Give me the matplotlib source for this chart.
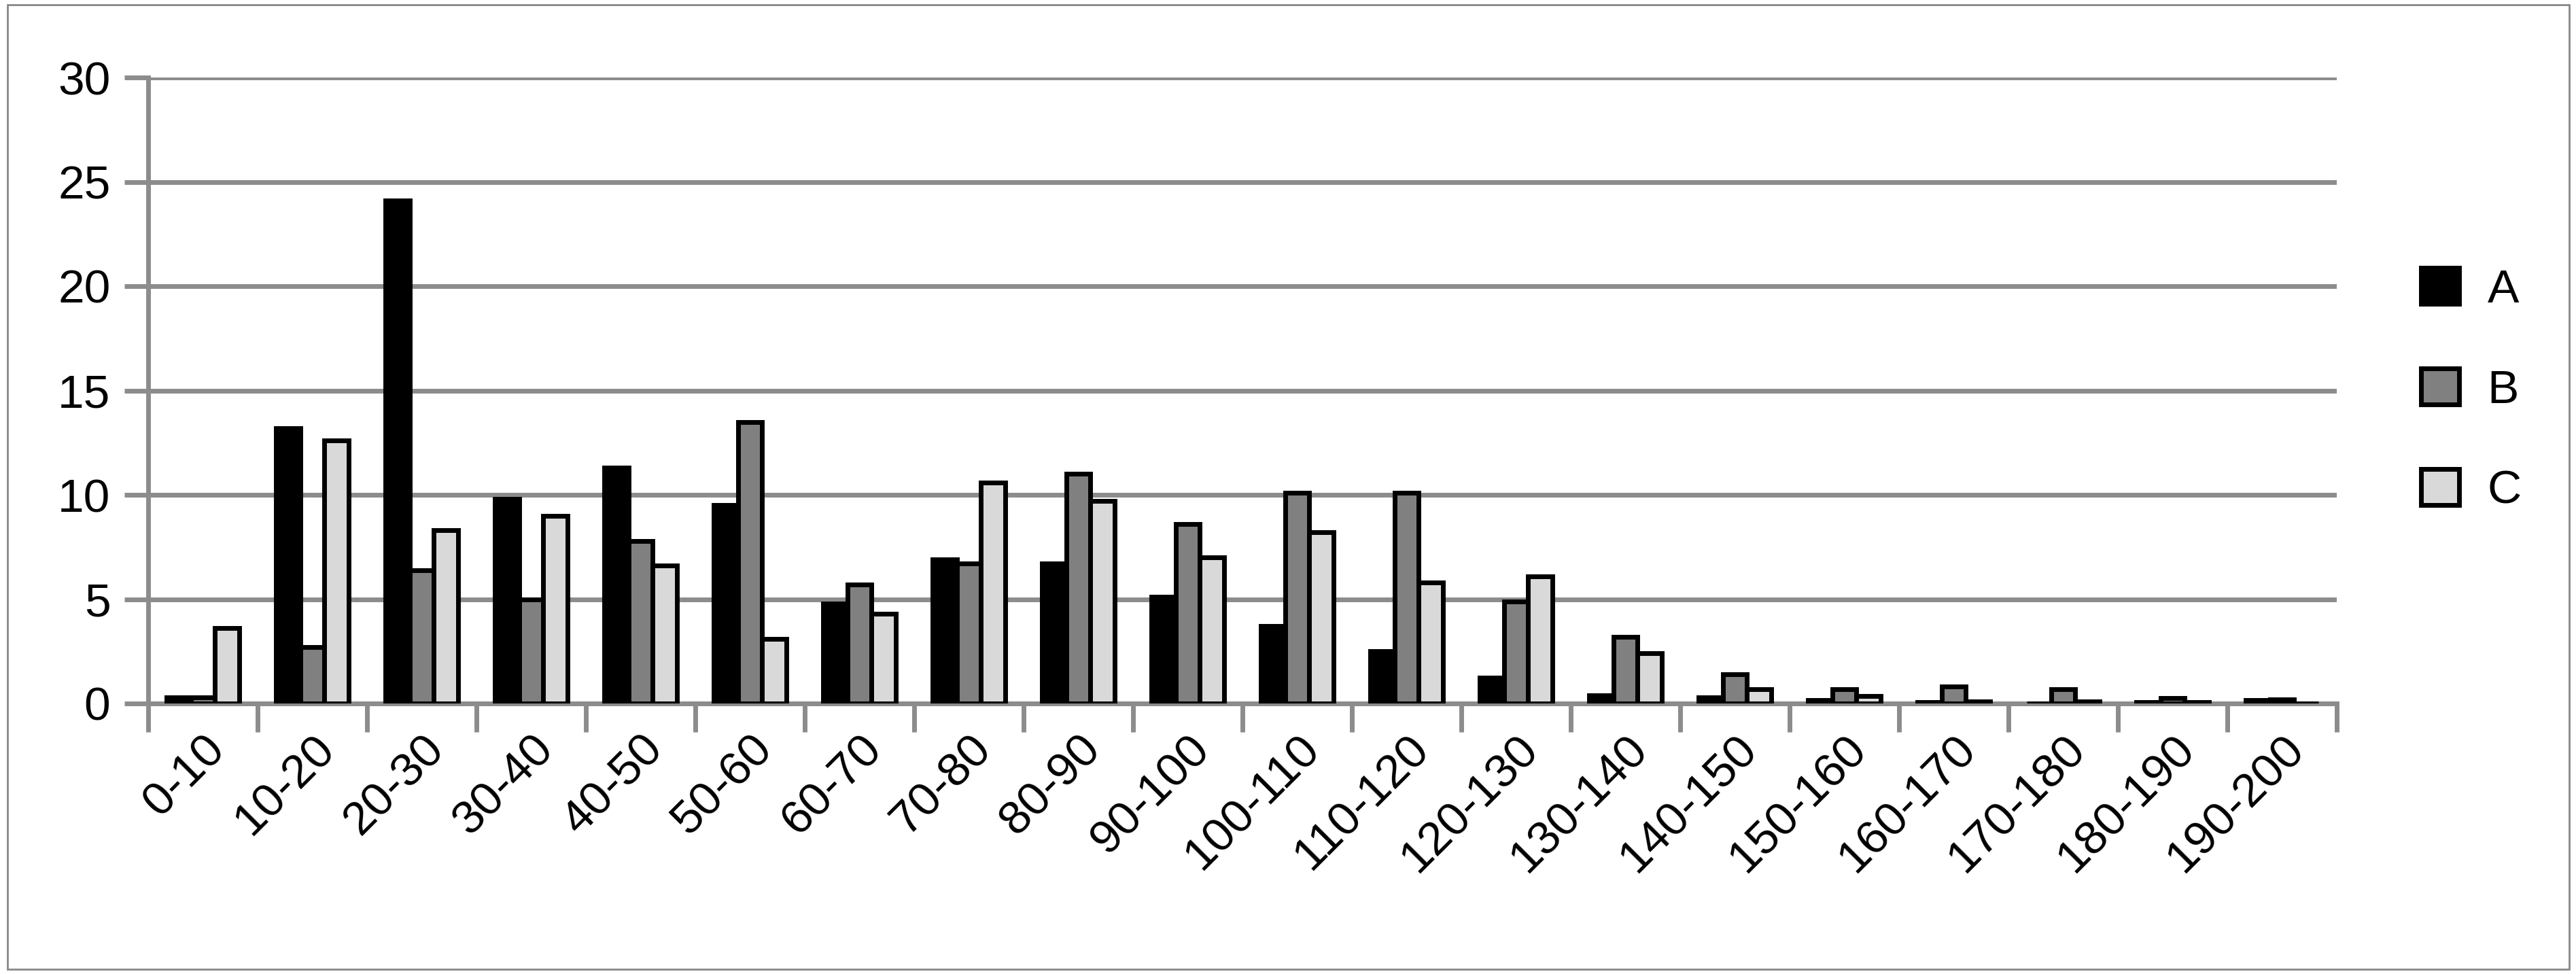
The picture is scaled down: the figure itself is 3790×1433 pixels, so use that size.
import matplotlib
matplotlib.use("Agg")
import matplotlib.pyplot as plt
import numpy as np
from matplotlib.patches import Rectangle

categories = ["0-10","10-20","20-30","30-40","40-50","50-60","60-70","70-80","80-90","90-100",
              "100-110","110-120","120-130","130-140","140-150","150-160","160-170","170-180","180-190","190-200"]
A = [0.3,13.2,24.1,9.8,11.3,9.5,4.8,6.9,6.7,5.1,3.7,2.5,1.25,0.4,0.3,0.15,0.05,0.0,0.05,0.15]
B = [0.3,2.7,6.4,5.0,7.8,13.5,5.7,6.7,11.0,8.6,10.1,10.1,4.9,3.2,1.4,0.7,0.8,0.7,0.25,0.2]
C = [3.6,12.6,8.3,9.0,6.6,3.1,4.3,10.6,9.7,7.0,8.2,5.8,6.1,2.4,0.7,0.35,0.1,0.1,0.05,0.0]
series = {"A": (A, "#000000"), "B": (B, "#808080"), "C": (C, "#d9d9d9")}

plt.rcParams['font.family'] = ['Liberation Sans', 'DejaVu Sans']
fig = plt.figure(figsize=(37.91, 14.33), dpi=100)
fig.patches.append(Rectangle((0.003, 0.005), 0.994, 0.99, transform=fig.transFigure,
                             fill=False, edgecolor="#888888", linewidth=2))
ax = fig.add_axes([218/3791, 1-1035/1433, (3438-218)/3791, (1035-114)/1433])
x = np.arange(len(categories))
w = 0.22
for i, (name, (vals, col)) in enumerate(series.items()):
    ax.bar(x + (i-1)*w, vals, w, color=col, edgecolor="black", linewidth=5, label=name, zorder=3)
ax.set_xlim(-0.5, len(categories)-0.5)
ax.set_ylim(0, 30)
ax.set_yticks(range(0, 31, 5))
ax.yaxis.grid(True, color="#8c8c8c", linewidth=5, zorder=0)
for s in ["top", "right"]:
    ax.spines[s].set_visible(False)
for s in ["left", "bottom"]:
    ax.spines[s].set_color("#8c8c8c"); ax.spines[s].set_linewidth(5)
ax.set_xticks(np.arange(len(categories)+1)-0.5, minor=False)
ax.set_xticklabels([])
ax.set_xticks(x, minor=True)
ax.set_xticklabels(categories, minor=True, rotation=45, ha="right", rotation_mode="anchor", fontsize=50)
ax.tick_params(axis="x", which="major", length=30, width=5, color="#8c8c8c")
ax.tick_params(axis="x", which="minor", length=0, pad=25)
ax.tick_params(axis="y", length=25, width=5, color="#8c8c8c", labelsize=50, pad=15)
ax.legend(loc="center left", bbox_to_anchor=(1.03, 0.5), frameon=False, fontsize=50,
          handlelength=0.8, handleheight=0.8, labelspacing=1.2, handletextpad=0.6, borderaxespad=0)
fig.savefig("out.png", dpi=100)
